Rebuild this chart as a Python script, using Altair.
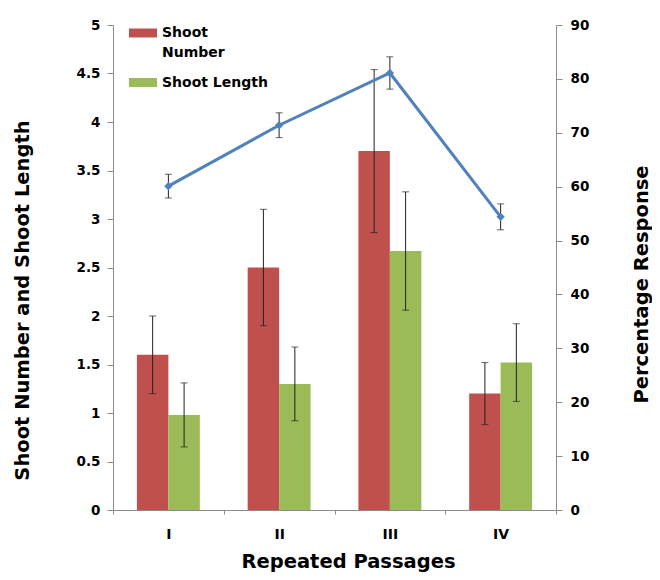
import altair as alt
import pandas as pd

categories = ["I", "II", "III", "IV"]
series_names = ["Shoot Number", "Shoot Length"]
series_colors = ["#c0504d", "#9bbb59"]
shoot_number = [1.6, 2.5, 3.7, 1.2]
shoot_number_err = [0.40, 0.60, 0.84, 0.32]
shoot_length = [0.98, 1.30, 2.67, 1.52]
shoot_length_err = [0.33, 0.38, 0.61, 0.40]
response = [60.1, 71.4, 81.1, 54.4]
response_err = [2.2, 2.3, 3.0, 2.4]
left_ticks = [0, 0.5, 1, 1.5, 2, 2.5, 3, 3.5, 4, 4.5, 5]
right_ticks = [0, 10, 20, 30, 40, 50, 60, 70, 80, 90]

bars_df = pd.DataFrame({
    "passage": categories * 2,
    "series": [series_names[0]] * 4 + [series_names[1]] * 4,
    "value": shoot_number + shoot_length,
    "err": shoot_number_err + shoot_length_err,
})
bars_df["lo"] = bars_df["value"] - bars_df["err"]
bars_df["hi"] = bars_df["value"] + bars_df["err"]

line_df = pd.DataFrame({"passage": categories, "pct": response, "err": response_err})
line_df["lo"] = line_df["pct"] - line_df["err"]
line_df["hi"] = line_df["pct"] + line_df["err"]

FONT = "DejaVu Sans"

x_axis = alt.Axis(
    title="Repeated Passages", labelAngle=0, tickBand="extent", tickSize=4,
    labelPadding=13, labelFontSize=14, titleX=235, titleY=57,
    titleBaseline="alphabetic", titleAlign="center",
)
x_enc = alt.X("passage:N", sort=categories,
              scale=alt.Scale(paddingInner=0, paddingOuter=0), axis=x_axis)
xoff = alt.XOffset("series:N", sort=series_names,
                   scale=alt.Scale(paddingInner=0, paddingOuter=0.76))

left_axis = alt.Axis(
    title="Shoot Number and Shoot Length", values=left_ticks, format="~g",
    tickSize=6, labelPadding=7, titleAngle=270, titleX=-91, titleY=275,
    titleAlign="center", titleBaseline="middle",
)
left_scale = alt.Scale(domain=[0, 5], nice=False)
right_axis = alt.Axis(
    title="Percentage Response", values=right_ticks, orient="right",
    tickSize=6, labelPadding=8, titleAngle=270, titleX=85, titleY=259,
    titleAlign="center", titleBaseline="middle",
)
right_scale = alt.Scale(domain=[0, 90], nice=False)

base_bars = alt.Chart(bars_df)
bars = base_bars.mark_bar().encode(
    x=x_enc, xOffset=xoff,
    y=alt.Y("value:Q", scale=left_scale, axis=left_axis),
    color=alt.Color(
        "series:N", sort=series_names,
        scale=alt.Scale(domain=series_names, range=series_colors),
        legend=alt.Legend(
            title=None, orient="none", legendX=16, legendY=-6, padding=0,
            symbolType="M-1,-0.32H1V0.32H-1Z", symbolSize=784,
            symbolStrokeWidth=0, symbolOpacity=1, labelOffset=5,
            labelFont=FONT, labelFontSize=14, labelFontWeight="bold",
            labelColor="black", labelBaseline="middle", rowPadding=8.5,
            labelExpr="datum.label == 'Shoot Number' ? ['Shoot', 'Number'] : datum.label",
        ),
    ),
)
bar_err = base_bars.mark_rule(color="#222222", strokeWidth=1).encode(
    x=x_enc, xOffset=xoff,
    y=alt.Y("lo:Q", scale=left_scale, axis=left_axis), y2="hi:Q",
)
bar_cap_hi = base_bars.mark_tick(color="#222222", size=7, thickness=1).encode(
    x=x_enc, xOffset=xoff, y=alt.Y("hi:Q", scale=left_scale, axis=left_axis),
)
bar_cap_lo = base_bars.mark_tick(color="#222222", size=7, thickness=1).encode(
    x=x_enc, xOffset=xoff, y=alt.Y("lo:Q", scale=left_scale, axis=left_axis),
)
left = alt.layer(bars, bar_err, bar_cap_hi, bar_cap_lo)

base_line = alt.Chart(line_df)
line = base_line.mark_line(color="#4f81bd", strokeWidth=3).encode(
    x=x_enc, y=alt.Y("pct:Q", scale=right_scale, axis=right_axis),
)
pts = base_line.mark_point(shape="diamond", filled=True, size=70,
                           color="#4f81bd", opacity=1).encode(
    x=x_enc, y=alt.Y("pct:Q", scale=right_scale, axis=right_axis),
)
line_err = base_line.mark_rule(color="#222222", strokeWidth=1).encode(
    x=x_enc, y=alt.Y("lo:Q", scale=right_scale, axis=right_axis), y2="hi:Q",
)
line_cap_hi = base_line.mark_tick(color="#222222", size=7, thickness=1).encode(
    x=x_enc, y=alt.Y("hi:Q", scale=right_scale, axis=right_axis),
)
line_cap_lo = base_line.mark_tick(color="#222222", size=7, thickness=1).encode(
    x=x_enc, y=alt.Y("lo:Q", scale=right_scale, axis=right_axis),
)
right = alt.layer(line_err, line_cap_hi, line_cap_lo, line, pts)

chart = alt.layer(left, right).resolve_scale(y="independent").properties(
    width=443, height=485, autosize="none",
    padding={"left": 105, "top": 17, "right": 96, "bottom": 62},
    background="white",
).configure(
    style={"guide-label": {"lineHeight": 20}},
).configure_view(strokeWidth=0).configure_axis(
    grid=False, domainColor="#8c8c8c", tickColor="#8c8c8c",
    labelFont=FONT, labelFontWeight="bold", labelFontSize=13.5, labelColor="black",
    titleFont=FONT, titleFontWeight="bold", titleFontSize=19.5, titleColor="black",
)

chart.save("out.html", embed_options={"renderer": "svg", "actions": False})
